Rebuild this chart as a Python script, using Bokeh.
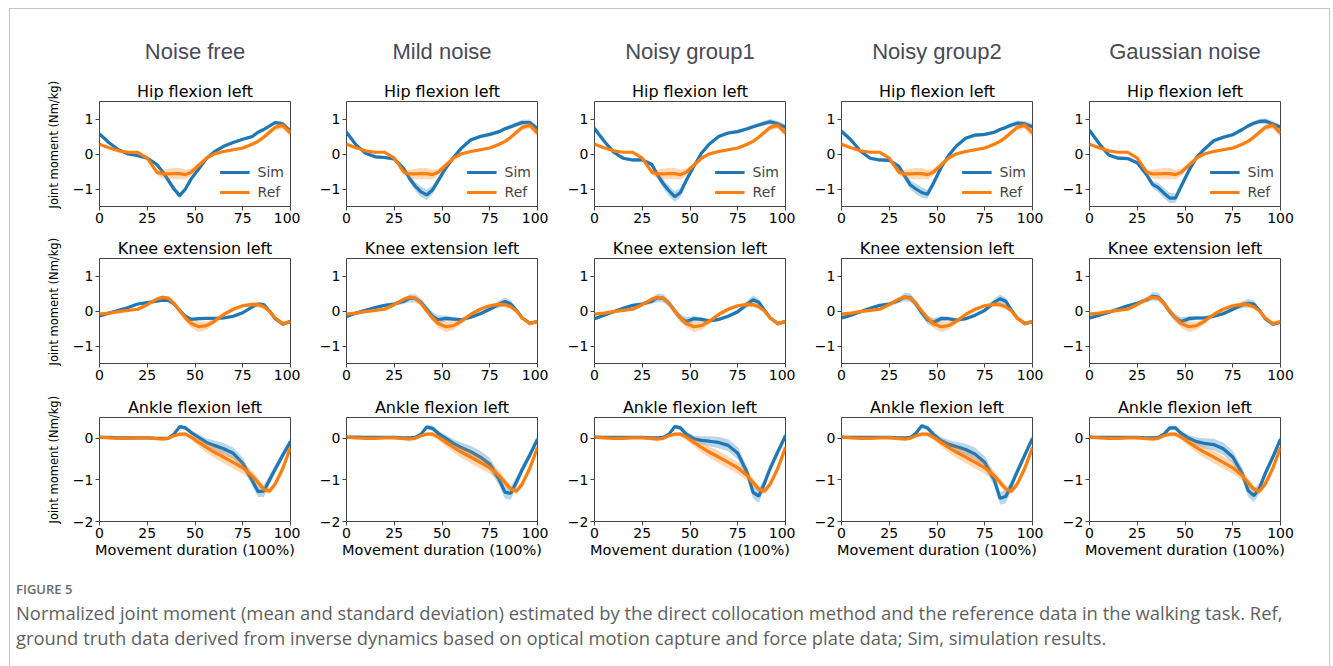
from bokeh.plotting import figure
from bokeh.layouts import row, column
from bokeh.models import (Range1d, FixedTicker, Title, Legend, LegendItem, Div,
                          CustomJSTickFormatter)
from bokeh.embed import file_html
from bokeh.resources import INLINE

# ---------------- data ----------------
x_pct = [0, 5, 10, 15, 20, 25, 30, 33, 36, 39, 42, 45, 48, 52, 56, 60, 65, 70, 75, 80, 83, 86, 89, 92, 96, 100]

column_titles = ["Noise free", "Mild noise", "Noisy group1", "Noisy group2", "Gaussian noise"]
joint_titles = ["Hip flexion left", "Knee extension left", "Ankle flexion left"]
x_ticks = [0, 25, 50, 75, 100]
y_ticks = [[-1, 0, 1], [-1, 0, 1], [-2, -1, 0]]
y_limits = [(-1.5, 1.5), (-1.5, 1.5), (-2.0, 0.5)]

# reference (ground truth) mean and SD
hip_ref = [0.28, 0.18, 0.09, 0.05, 0.05, -0.12, -0.52, -0.57, -0.57, -0.56, -0.56, -0.59, -0.52, -0.32, -0.12, 0.0, 0.07, 0.12, 0.17, 0.28, 0.36, 0.48, 0.62, 0.76, 0.82, 0.60]
hip_ref_sd = [0.03, 0.03, 0.03, 0.03, 0.04, 0.05, 0.08, 0.12, 0.15, 0.16, 0.16, 0.14, 0.10, 0.07, 0.05, 0.04, 0.04, 0.04, 0.04, 0.05, 0.05, 0.06, 0.07, 0.08, 0.10, 0.12]
knee_ref = [-0.09, -0.06, -0.02, 0.02, 0.05, 0.18, 0.34, 0.39, 0.37, 0.22, 0.0, -0.2, -0.36, -0.45, -0.42, -0.3, -0.1, 0.05, 0.15, 0.19, 0.18, 0.12, 0.0, -0.2, -0.36, -0.3]
knee_ref_sd = [0.03, 0.03, 0.03, 0.03, 0.04, 0.04, 0.05, 0.05, 0.05, 0.05, 0.06, 0.08, 0.12, 0.15, 0.12, 0.08, 0.05, 0.05, 0.05, 0.06, 0.07, 0.06, 0.05, 0.05, 0.05, 0.05]
ankle_ref = [0.03, 0.01, 0.0, 0.0, 0.01, 0.01, -0.01, -0.02, 0.0, 0.06, 0.1, 0.1, 0.03, -0.1, -0.22, -0.33, -0.45, -0.58, -0.71, -0.9, -1.06, -1.22, -1.27, -1.1, -0.72, -0.22]
ankle_ref_sd = [0.02, 0.02, 0.02, 0.02, 0.02, 0.02, 0.02, 0.02, 0.02, 0.03, 0.04, 0.05, 0.07, 0.1, 0.12, 0.14, 0.15, 0.15, 0.14, 0.12, 0.1, 0.08, 0.07, 0.08, 0.1, 0.1]

# simulation means, one list per noise condition
hip_sim_noise_free = [0.57, 0.32, 0.12, 0.0, -0.05, -0.12, -0.3, -0.5, -0.75, -1.0, -1.19, -1.0, -0.71, -0.42, -0.13, 0.06, 0.22, 0.33, 0.42, 0.5, 0.62, 0.7, 0.8, 0.9, 0.86, 0.65]
hip_sim_mild = [0.62, 0.26, 0.02, -0.08, -0.1, -0.14, -0.42, -0.7, -0.92, -1.08, -1.17, -1.03, -0.76, -0.4, -0.1, 0.16, 0.4, 0.5, 0.56, 0.64, 0.72, 0.78, 0.84, 0.9, 0.9, 0.72]
hip_sim_noisy1 = [0.73, 0.37, 0.05, -0.12, -0.17, -0.17, -0.3, -0.6, -0.85, -1.05, -1.22, -1.1, -0.76, -0.35, 0.02, 0.28, 0.5, 0.6, 0.64, 0.72, 0.78, 0.83, 0.88, 0.92, 0.86, 0.76]
hip_sim_noisy2 = [0.65, 0.4, 0.08, -0.12, -0.17, -0.18, -0.35, -0.62, -0.88, -1.0, -1.1, -1.15, -0.85, -0.4, -0.05, 0.22, 0.45, 0.54, 0.56, 0.62, 0.7, 0.76, 0.83, 0.88, 0.86, 0.78]
hip_sim_gaussian = [0.68, 0.3, -0.03, -0.12, -0.13, -0.25, -0.6, -0.87, -0.96, -1.12, -1.26, -1.26, -0.92, -0.48, -0.1, 0.13, 0.38, 0.48, 0.55, 0.7, 0.8, 0.88, 0.93, 0.94, 0.86, 0.76]

knee_sim_noise_free = [-0.14, -0.06, 0.02, 0.1, 0.2, 0.24, 0.28, 0.31, 0.3, 0.2, 0.02, -0.15, -0.24, -0.22, -0.21, -0.21, -0.2, -0.15, -0.05, 0.12, 0.2, 0.18, 0.0, -0.22, -0.38, -0.3]
knee_sim_mild = [-0.16, -0.06, 0.02, 0.1, 0.16, 0.2, 0.28, 0.36, 0.36, 0.25, 0.05, -0.15, -0.25, -0.21, -0.23, -0.25, -0.18, -0.08, 0.05, 0.2, 0.27, 0.2, 0.02, -0.2, -0.35, -0.3]
knee_sim_noisy1 = [-0.22, -0.12, -0.02, 0.08, 0.16, 0.2, 0.28, 0.38, 0.36, 0.22, 0.0, -0.2, -0.3, -0.22, -0.24, -0.28, -0.24, -0.15, -0.02, 0.2, 0.32, 0.25, 0.02, -0.2, -0.36, -0.3]
knee_sim_noisy2 = [-0.2, -0.12, -0.02, 0.08, 0.16, 0.2, 0.3, 0.4, 0.38, 0.2, -0.05, -0.25, -0.33, -0.22, -0.22, -0.26, -0.22, -0.12, 0.02, 0.25, 0.35, 0.28, 0.02, -0.2, -0.36, -0.3]
knee_sim_gaussian = [-0.2, -0.12, -0.04, 0.06, 0.15, 0.22, 0.32, 0.42, 0.4, 0.22, -0.02, -0.2, -0.3, -0.22, -0.2, -0.2, -0.15, -0.08, 0.05, 0.18, 0.22, 0.2, 0.02, -0.22, -0.38, -0.32]

ankle_sim_noise_free = [0.02, 0.02, 0.01, 0.01, 0.01, 0.01, 0.0, 0.0, 0.0, 0.1, 0.28, 0.25, 0.14, 0.02, -0.1, -0.17, -0.25, -0.36, -0.6, -1.02, -1.28, -1.27, -1.0, -0.74, -0.4, -0.08]
ankle_sim_mild = [0.03, 0.03, 0.02, 0.02, 0.02, 0.02, 0.01, 0.01, 0.02, 0.1, 0.27, 0.24, 0.12, 0.0, -0.12, -0.22, -0.32, -0.45, -0.62, -1.0, -1.3, -1.32, -1.05, -0.75, -0.4, -0.02]
ankle_sim_noisy1 = [0.03, 0.02, 0.02, 0.02, 0.02, 0.02, 0.01, 0.01, 0.02, 0.1, 0.28, 0.25, 0.1, -0.01, -0.05, -0.07, -0.1, -0.17, -0.36, -0.83, -1.3, -1.39, -1.08, -0.72, -0.32, 0.06]
ankle_sim_noisy2 = [0.03, 0.02, 0.02, 0.02, 0.02, 0.02, 0.01, 0.01, 0.02, 0.12, 0.3, 0.25, 0.1, -0.05, -0.14, -0.2, -0.27, -0.38, -0.58, -1.0, -1.44, -1.4, -1.12, -0.8, -0.4, 0.0]
ankle_sim_gaussian = [0.03, 0.02, 0.02, 0.02, 0.02, 0.02, 0.01, 0.01, 0.02, 0.1, 0.25, 0.25, 0.12, 0.0, -0.08, -0.12, -0.15, -0.25, -0.45, -0.85, -1.25, -1.38, -1.2, -0.85, -0.45, -0.02]

# simulation SD (clean data vs noisy data)
hip_sim_sd_clean = [0.05, 0.04, 0.03, 0.03, 0.03, 0.04, 0.05, 0.06, 0.07, 0.08, 0.08, 0.07, 0.06, 0.05, 0.05, 0.04, 0.04, 0.04, 0.04, 0.05, 0.05, 0.05, 0.06, 0.06, 0.07, 0.08]
hip_sim_sd_noisy = [0.08, 0.06, 0.05, 0.05, 0.05, 0.05, 0.07, 0.10, 0.13, 0.15, 0.15, 0.13, 0.10, 0.08, 0.06, 0.05, 0.05, 0.05, 0.05, 0.05, 0.05, 0.06, 0.07, 0.08, 0.08, 0.08]
knee_sim_sd_clean = [0.04, 0.03, 0.03, 0.03, 0.03, 0.03, 0.04, 0.04, 0.05, 0.05, 0.05, 0.05, 0.05, 0.05, 0.04, 0.04, 0.04, 0.04, 0.04, 0.05, 0.05, 0.05, 0.04, 0.04, 0.04, 0.04]
knee_sim_sd_noisy = [0.05, 0.05, 0.04, 0.04, 0.04, 0.05, 0.08, 0.12, 0.12, 0.10, 0.10, 0.12, 0.12, 0.08, 0.06, 0.05, 0.05, 0.05, 0.06, 0.10, 0.12, 0.10, 0.06, 0.05, 0.06, 0.05]
ankle_sim_sd_clean = [0.02, 0.02, 0.02, 0.02, 0.02, 0.02, 0.02, 0.02, 0.02, 0.03, 0.04, 0.05, 0.06, 0.08, 0.10, 0.12, 0.14, 0.14, 0.13, 0.12, 0.13, 0.15, 0.12, 0.10, 0.10, 0.10]
ankle_sim_sd_noisy = [0.02, 0.02, 0.02, 0.02, 0.02, 0.02, 0.02, 0.02, 0.02, 0.03, 0.05, 0.06, 0.07, 0.08, 0.10, 0.12, 0.14, 0.15, 0.15, 0.14, 0.15, 0.16, 0.13, 0.10, 0.10, 0.10]

ref_mean = [hip_ref, knee_ref, ankle_ref]
ref_sd = [hip_ref_sd, knee_ref_sd, ankle_ref_sd]
sim_mean = [
    [hip_sim_noise_free, hip_sim_mild, hip_sim_noisy1, hip_sim_noisy2, hip_sim_gaussian],
    [knee_sim_noise_free, knee_sim_mild, knee_sim_noisy1, knee_sim_noisy2, knee_sim_gaussian],
    [ankle_sim_noise_free, ankle_sim_mild, ankle_sim_noisy1, ankle_sim_noisy2, ankle_sim_gaussian],
]
sim_sd = [
    [hip_sim_sd_clean] + [hip_sim_sd_noisy] * 4,
    [knee_sim_sd_clean] + [knee_sim_sd_noisy] * 4,
    [ankle_sim_sd_clean] + [ankle_sim_sd_noisy] * 4,
]

# ---------------- layout ----------------
SIM_C = "#1f77b4"
REF_C = "#ff7f0e"
FRAME_W = 191
col_fig_w = [300, 248, 247, 248, 290]
col_left = [99, 46, 46, 46, 46]
row_fig_h = [229, 162, 175]
row_top = [101, 29, 26]
frame_h = [105, 105, 104]

minus_fmt = "return tick < 0 ? '\u2212' + String(-tick) : String(tick);"


def lo_hi(m, s):
    return [a - b for a, b in zip(m, s)], [a + b for a, b in zip(m, s)]


rows = []
for ri in range(3):
    figs = []
    for ci in range(5):
        right = col_fig_w[ci] - col_left[ci] - FRAME_W
        bottom = row_fig_h[ri] - row_top[ri] - frame_h[ri]
        p = figure(width=col_fig_w[ci], height=row_fig_h[ri],
                   x_range=Range1d(0, 100), y_range=Range1d(*y_limits[ri]),
                   output_backend="svg", toolbar_location=None, tools="",
                   min_border_left=col_left[ci], min_border_right=right,
                   min_border_top=row_top[ri], min_border_bottom=bottom,
                   border_fill_color=None, background_fill_color="white",
                   outline_line_color="#444444", outline_line_width=1)
        p.xgrid.visible = False
        p.ygrid.visible = False

        slo, shi = lo_hi(sim_mean[ri][ci], sim_sd[ri][ci])
        rlo, rhi = lo_hi(ref_mean[ri], ref_sd[ri])
        p.varea(x=x_pct, y1=slo, y2=shi, fill_color=SIM_C, fill_alpha=0.3)
        sim_line = p.line(x_pct, sim_mean[ri][ci], line_color=SIM_C, line_width=3.2)
        p.varea(x=x_pct, y1=rlo, y2=rhi, fill_color=REF_C, fill_alpha=0.3)
        ref_line = p.line(x_pct, ref_mean[ri], line_color=REF_C, line_width=3.2)

        for ax in (p.xaxis[0], p.yaxis[0]):
            ax.axis_line_color = None
            ax.major_tick_line_color = "#444444"
            ax.major_tick_out = 4
            ax.major_tick_in = 0
            ax.minor_tick_line_color = None
            ax.major_label_text_font = "DejaVu Sans"
            ax.major_label_text_font_size = "14px"
            ax.major_label_text_color = "black"
            ax.major_label_standoff = 2
        p.xaxis[0].ticker = FixedTicker(ticks=x_ticks)
        p.yaxis[0].ticker = FixedTicker(ticks=y_ticks[ri])
        p.yaxis[0].formatter = CustomJSTickFormatter(code=minus_fmt)

        if ri == 2:
            p.xaxis[0].axis_label = "Movement duration (100%)"
            p.xaxis[0].axis_label_text_font = "DejaVu Sans"
            p.xaxis[0].axis_label_text_font_size = "14.5px"
            p.xaxis[0].axis_label_text_font_style = "normal"
            p.xaxis[0].axis_label_text_color = "black"
            p.xaxis[0].axis_label_standoff = 1

        p.add_layout(Title(text=joint_titles[ri], align="center", standoff=2,
                           text_font="DejaVu Sans", text_font_size="16px",
                           text_font_style="normal", text_color="black"), "above")
        if ri == 0:
            p.add_layout(Title(text=column_titles[ci], align="center", standoff=30,
                               text_font="Liberation Sans", text_font_size="22px",
                               text_font_style="normal", text_color="#4a4a55"), "above")
            legend = Legend(items=[LegendItem(label="Sim", renderers=[sim_line]),
                                   LegendItem(label="Ref", renderers=[ref_line])],
                            location="bottom_right", margin=2, padding=4, spacing=4,
                            glyph_width=30, glyph_height=16, label_height=16,
                            label_standoff=8, label_text_font="DejaVu Sans",
                            label_text_font_size="14px", background_fill_alpha=0,
                            border_line_alpha=0)
            p.add_layout(legend)
        if ci == 0:
            p.add_layout(Title(text="Joint moment (Nm/kg)", align="left", offset=-2,
                               standoff=18, text_font="DejaVu Sans",
                               text_font_size="11.5px", text_font_style="normal",
                               text_color="black"), "left")
        figs.append(p)
    rows.append(row(*figs, spacing=0))

caption_html = (
    '<div style="padding:15px 0 0 16px; font-family:\'Open Sans\', sans-serif; color:#5f5f5f;">'
    '<div style="font-size:13px; line-height:16px; font-weight:600; color:#6a6a6a;">FIGURE 5</div>'
    '<div style="font-size:18.4px; line-height:25px; margin-top:3px; white-space:nowrap;">'
    'Normalized joint moment (mean and standard deviation) '
    'estimated by the direct collocation method and the reference data in the walking task. Ref,<br>'
    'ground truth data derived from inverse dynamics based on optical motion capture and force plate data; '
    'Sim, simulation results.</div></div>'
)
caption = Div(text=caption_html, width=1333, height=100, margin=(0, 0, 0, 0))

layout = column(*rows, caption, spacing=0, styles={
    "background-image": "linear-gradient(#c4c4c4,#c4c4c4), linear-gradient(#c4c4c4,#c4c4c4), linear-gradient(#c4c4c4,#c4c4c4)",
    "background-position": "9px 8px, 9px 8px, 1329px 8px",
    "background-size": "1321px 1px, 1px 700px, 1px 700px",
    "background-repeat": "no-repeat",
})

open("out.html", "w").write(file_html(layout, INLINE))
